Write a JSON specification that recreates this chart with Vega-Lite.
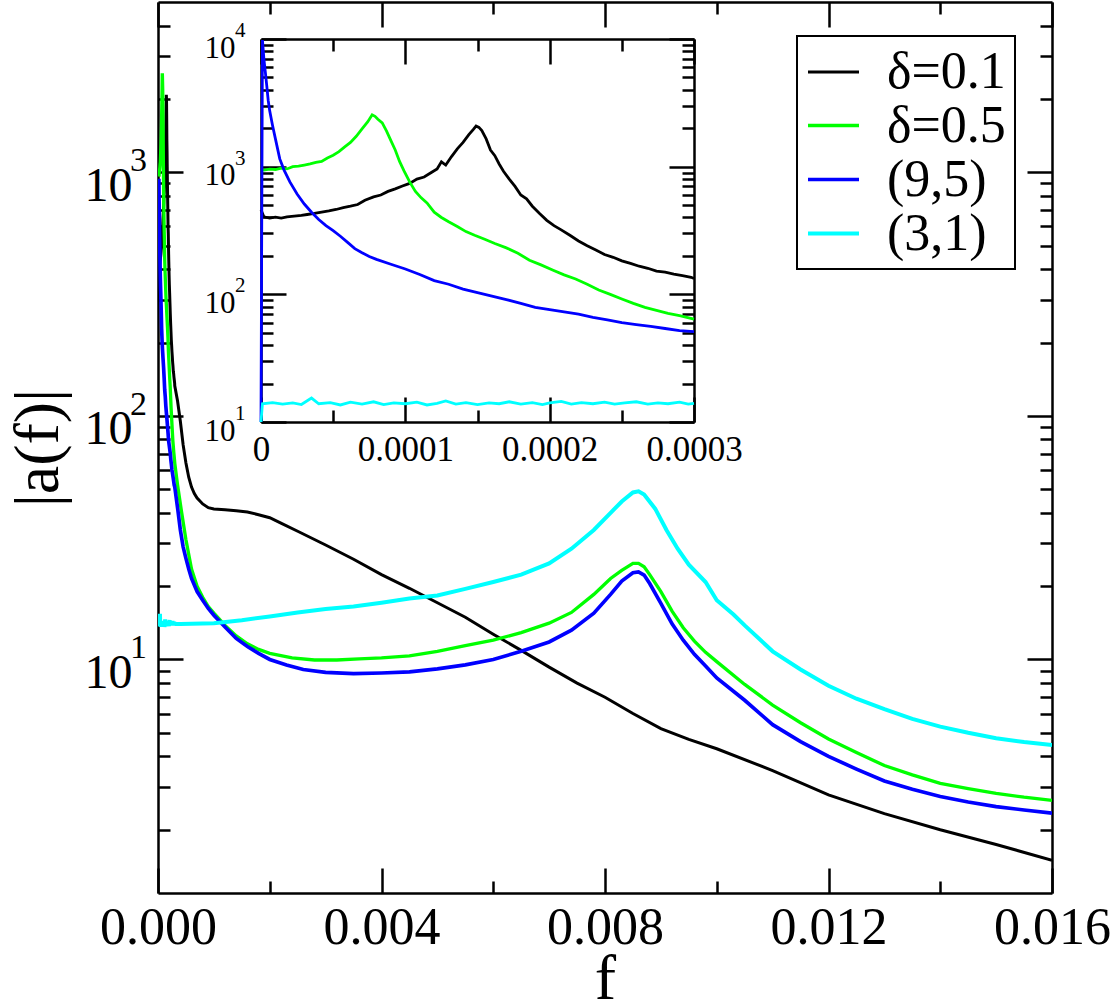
{
"$schema": "https://vega.github.io/schema/vega-lite/v6.json",
"width": 894, "height": 891,
"autosize": {"type": "none"},
"padding": {"left": 158, "top": 2, "right": 61, "bottom": 114},
"background": "white",
"config": {
 "view": {"stroke": null},
 "font": "Liberation Serif",
 "axis": {"grid": false, "labelFont": "Liberation Serif", "titleFont": "Liberation Serif", "labelColor": "black", "titleColor": "black", "tickColor": "black", "domainColor": "black", "tickWidth": 2.5, "domainWidth": 2.5, "titleFontWeight": "normal", "labelOverlap": false, "labelFlush": false, "labelBound": false, "zindex": 1},
 "legend": {"orient": "none", "legendX": 639, "legendY": 34, "strokeColor": "black", "strokeWidth": 2, "fillColor": "white", "padding": 9, "symbolType": "stroke", "symbolSize": 2601, "symbolStrokeWidth": 2, "labelFont": "Liberation Serif", "labelFontSize": 52, "labelColor": "black", "labelOffset": 26, "rowPadding": -2, "labelLimit": 400}
},
"datasets": {
 "mainExp": [{"f": 0, "v": 10, "e": "1"}, {"f": 0, "v": 100, "e": "2"}, {"f": 0, "v": 1000, "e": "3"}],
 "insetExp": [{"f": 0, "v": 10, "e": "1"}, {"f": 0, "v": 100, "e": "2"}, {"f": 0, "v": 1000, "e": "3"}, {"f": 0, "v": 10000, "e": "4"}],
 "curves": [
{"s":"δ=0.1","f":0,"v":460},{"s":"δ=0.1","f":0.000002,"v":405},{"s":"δ=0.1","f":0.000006,"v":395},{"s":"δ=0.1","f":0.00001,"v":402},{"s":"δ=0.1","f":0.000014,"v":396},{"s":"δ=0.1","f":0.000018,"v":405},{"s":"δ=0.1","f":0.000023,"v":410},{"s":"δ=0.1","f":0.000028,"v":415},{"s":"δ=0.1","f":0.000032,"v":422},{"s":"δ=0.1","f":0.000037,"v":430},{"s":"δ=0.1","f":0.000042,"v":440},{"s":"δ=0.1","f":0.000047,"v":450},{"s":"δ=0.1","f":0.000052,"v":462},{"s":"δ=0.1","f":0.000057,"v":478},{"s":"δ=0.1","f":0.000062,"v":490},{"s":"δ=0.1","f":0.000067,"v":505},{"s":"δ=0.1","f":0.000072,"v":545},{"s":"δ=0.1","f":0.000078,"v":580},{"s":"δ=0.1","f":0.000083,"v":600},{"s":"δ=0.1","f":0.000088,"v":640},{"s":"δ=0.1","f":0.000093,"v":670},{"s":"δ=0.1","f":0.000098,"v":705},{"s":"δ=0.1","f":0.000103,"v":740},{"s":"δ=0.1","f":0.000108,"v":800},{"s":"δ=0.1","f":0.000113,"v":830},{"s":"δ=0.1","f":0.000118,"v":900},{"s":"δ=0.1","f":0.000122,"v":960},{"s":"δ=0.1","f":0.000125,"v":1090},{"s":"δ=0.1","f":0.000128,"v":1030},{"s":"δ=0.1","f":0.000132,"v":1200},{"s":"δ=0.1","f":0.000136,"v":1380},{"s":"δ=0.1","f":0.00014,"v":1550},{"s":"δ=0.1","f":0.000144,"v":1780},{"s":"δ=0.1","f":0.000147,"v":1950},{"s":"δ=0.1","f":0.000149,"v":2080},{"s":"δ=0.1","f":0.000151,"v":2030},{"s":"δ=0.1","f":0.000153,"v":1920},{"s":"δ=0.1","f":0.000156,"v":1650},{"s":"δ=0.1","f":0.000159,"v":1350},{"s":"δ=0.1","f":0.000162,"v":1220},{"s":"δ=0.1","f":0.000165,"v":1050},{"s":"δ=0.1","f":0.000168,"v":920},{"s":"δ=0.1","f":0.000172,"v":800},{"s":"δ=0.1","f":0.000176,"v":700},{"s":"δ=0.1","f":0.00018,"v":600},{"s":"δ=0.1","f":0.000184,"v":560},{"s":"δ=0.1","f":0.000188,"v":490},{"s":"δ=0.1","f":0.000193,"v":430},{"s":"δ=0.1","f":0.000198,"v":380},{"s":"δ=0.1","f":0.000203,"v":345},{"s":"δ=0.1","f":0.000208,"v":320},{"s":"δ=0.1","f":0.000214,"v":290},{"s":"δ=0.1","f":0.00022,"v":262},{"s":"δ=0.1","f":0.000226,"v":240},{"s":"δ=0.1","f":0.000232,"v":222},{"s":"δ=0.1","f":0.000238,"v":205},{"s":"δ=0.1","f":0.000244,"v":195},{"s":"δ=0.1","f":0.00025,"v":183},{"s":"δ=0.1","f":0.000256,"v":175},{"s":"δ=0.1","f":0.000262,"v":166},{"s":"δ=0.1","f":0.000268,"v":160},{"s":"δ=0.1","f":0.000274,"v":152},{"s":"δ=0.1","f":0.00028,"v":149},{"s":"δ=0.1","f":0.000286,"v":144},{"s":"δ=0.1","f":0.000292,"v":140},{"s":"δ=0.1","f":0.000298,"v":136},{"s":"δ=0.1","f":0.0003,"v":133},
{"s":"δ=0.1","f":0.00035,"v":115},{"s":"δ=0.1","f":0.0004,"v":95},{"s":"δ=0.1","f":0.00045,"v":76},{"s":"δ=0.1","f":0.0005,"v":64},{"s":"δ=0.1","f":0.00055,"v":56},{"s":"δ=0.1","f":0.0006,"v":51},{"s":"δ=0.1","f":0.00065,"v":48},{"s":"δ=0.1","f":0.0007,"v":46},{"s":"δ=0.1","f":0.0008,"v":43.5},{"s":"δ=0.1","f":0.0009,"v":42},{"s":"δ=0.1","f":0.001,"v":41.5},{"s":"δ=0.1","f":0.0012,"v":41.2},{"s":"δ=0.1","f":0.0014,"v":40.8},{"s":"δ=0.1","f":0.0016,"v":40.3},{"s":"δ=0.1","f":0.0018,"v":39.3},{"s":"δ=0.1","f":0.002,"v":38.2},{"s":"δ=0.1","f":0.0022,"v":36.3},{"s":"δ=0.1","f":0.0025,"v":33.6},{"s":"δ=0.1","f":0.003,"v":29.5},{"s":"δ=0.1","f":0.0035,"v":25.8},{"s":"δ=0.1","f":0.004,"v":22.3},{"s":"δ=0.1","f":0.0045,"v":19.6},{"s":"δ=0.1","f":0.005,"v":17.1},{"s":"δ=0.1","f":0.0055,"v":14.9},{"s":"δ=0.1","f":0.006,"v":12.7},{"s":"δ=0.1","f":0.0065,"v":10.9},{"s":"δ=0.1","f":0.007,"v":9.3},{"s":"δ=0.1","f":0.0075,"v":8.0},{"s":"δ=0.1","f":0.008,"v":7.0},{"s":"δ=0.1","f":0.0085,"v":6.0},{"s":"δ=0.1","f":0.009,"v":5.2},{"s":"δ=0.1","f":0.0095,"v":4.7},{"s":"δ=0.1","f":0.01,"v":4.3},{"s":"δ=0.1","f":0.011,"v":3.5},{"s":"δ=0.1","f":0.012,"v":2.78},{"s":"δ=0.1","f":0.013,"v":2.33},{"s":"δ=0.1","f":0.014,"v":2.0},{"s":"δ=0.1","f":0.015,"v":1.74},{"s":"δ=0.1","f":0.016,"v":1.5},
{"s":"δ=0.5","f":0,"v":950},{"s":"δ=0.5","f":0.000002,"v":940},{"s":"δ=0.5","f":0.000006,"v":955},{"s":"δ=0.5","f":0.00001,"v":950},{"s":"δ=0.5","f":0.000014,"v":975},{"s":"δ=0.5","f":0.000018,"v":960},{"s":"δ=0.5","f":0.000022,"v":1000},{"s":"δ=0.5","f":0.000026,"v":1010},{"s":"δ=0.5","f":0.00003,"v":1030},{"s":"δ=0.5","f":0.000034,"v":1050},{"s":"δ=0.5","f":0.000038,"v":1080},{"s":"δ=0.5","f":0.000042,"v":1100},{"s":"δ=0.5","f":0.000046,"v":1170},{"s":"δ=0.5","f":0.00005,"v":1230},{"s":"δ=0.5","f":0.000054,"v":1310},{"s":"δ=0.5","f":0.000058,"v":1430},{"s":"δ=0.5","f":0.000062,"v":1550},{"s":"δ=0.5","f":0.000066,"v":1730},{"s":"δ=0.5","f":0.00007,"v":1980},{"s":"δ=0.5","f":0.000074,"v":2250},{"s":"δ=0.5","f":0.000077,"v":2550},{"s":"δ=0.5","f":0.000079,"v":2480},{"s":"δ=0.5","f":0.000081,"v":2350},{"s":"δ=0.5","f":0.000084,"v":2200},{"s":"δ=0.5","f":0.000087,"v":1900},{"s":"δ=0.5","f":0.00009,"v":1600},{"s":"δ=0.5","f":0.000093,"v":1350},{"s":"δ=0.5","f":0.000096,"v":1100},{"s":"δ=0.5","f":0.000099,"v":930},{"s":"δ=0.5","f":0.000103,"v":760},{"s":"δ=0.5","f":0.000107,"v":640},{"s":"δ=0.5","f":0.000111,"v":570},{"s":"δ=0.5","f":0.000115,"v":520},{"s":"δ=0.5","f":0.00012,"v":440},{"s":"δ=0.5","f":0.000125,"v":400},{"s":"δ=0.5","f":0.00013,"v":370},{"s":"δ=0.5","f":0.000136,"v":340},{"s":"δ=0.5","f":0.000142,"v":310},{"s":"δ=0.5","f":0.000148,"v":290},{"s":"δ=0.5","f":0.000155,"v":270},{"s":"δ=0.5","f":0.000162,"v":250},{"s":"δ=0.5","f":0.00017,"v":231},{"s":"δ=0.5","f":0.000178,"v":210},{"s":"δ=0.5","f":0.000186,"v":185},{"s":"δ=0.5","f":0.000194,"v":170},{"s":"δ=0.5","f":0.000202,"v":155},{"s":"δ=0.5","f":0.00021,"v":142},{"s":"δ=0.5","f":0.000218,"v":132},{"s":"δ=0.5","f":0.000226,"v":120},{"s":"δ=0.5","f":0.000234,"v":108},{"s":"δ=0.5","f":0.000242,"v":100},{"s":"δ=0.5","f":0.00025,"v":92},{"s":"δ=0.5","f":0.000258,"v":85},{"s":"δ=0.5","f":0.000266,"v":79},{"s":"δ=0.5","f":0.000274,"v":75},{"s":"δ=0.5","f":0.000282,"v":71},{"s":"δ=0.5","f":0.00029,"v":68},{"s":"δ=0.5","f":0.0003,"v":64},
{"s":"δ=0.5","f":0.00035,"v":52},{"s":"δ=0.5","f":0.000424,"v":40},{"s":"δ=0.5","f":0.0005,"v":31},{"s":"δ=0.5","f":0.0006,"v":23.5},{"s":"δ=0.5","f":0.0007,"v":20},{"s":"δ=0.5","f":0.0008,"v":18},{"s":"δ=0.5","f":0.0009,"v":16.5},{"s":"δ=0.5","f":0.001,"v":15.5},{"s":"δ=0.5","f":0.0012,"v":13.8},{"s":"δ=0.5","f":0.0014,"v":12.5},{"s":"δ=0.5","f":0.0016,"v":11.6},{"s":"δ=0.5","f":0.0018,"v":11.0},{"s":"δ=0.5","f":0.002,"v":10.6},{"s":"δ=0.5","f":0.0024,"v":10.15},{"s":"δ=0.5","f":0.0028,"v":9.95},{"s":"δ=0.5","f":0.0032,"v":9.95},{"s":"δ=0.5","f":0.0036,"v":10.05},{"s":"δ=0.5","f":0.004,"v":10.15},{"s":"δ=0.5","f":0.0045,"v":10.35},{"s":"δ=0.5","f":0.005,"v":10.8},{"s":"δ=0.5","f":0.0055,"v":11.4},{"s":"δ=0.5","f":0.006,"v":12.0},{"s":"δ=0.5","f":0.0065,"v":12.9},{"s":"δ=0.5","f":0.007,"v":14.1},{"s":"δ=0.5","f":0.0074,"v":15.6},{"s":"δ=0.5","f":0.0078,"v":18.5},{"s":"δ=0.5","f":0.0081,"v":21.5},{"s":"δ=0.5","f":0.0083,"v":23.2},{"s":"δ=0.5","f":0.0085,"v":24.8},{"s":"δ=0.5","f":0.0086,"v":24.8},{"s":"δ=0.5","f":0.0087,"v":24.0},{"s":"δ=0.5","f":0.0088,"v":22.3},{"s":"δ=0.5","f":0.009,"v":19.0},{"s":"δ=0.5","f":0.0092,"v":15.8},{"s":"δ=0.5","f":0.0094,"v":13.5},{"s":"δ=0.5","f":0.0096,"v":11.9},{"s":"δ=0.5","f":0.0098,"v":10.7},{"s":"δ=0.5","f":0.01,"v":9.8},{"s":"δ=0.5","f":0.0105,"v":7.9},{"s":"δ=0.5","f":0.011,"v":6.5},{"s":"δ=0.5","f":0.0115,"v":5.5},{"s":"δ=0.5","f":0.012,"v":4.72},{"s":"δ=0.5","f":0.0125,"v":4.15},{"s":"δ=0.5","f":0.013,"v":3.67},{"s":"δ=0.5","f":0.0135,"v":3.36},{"s":"δ=0.5","f":0.014,"v":3.1},{"s":"δ=0.5","f":0.0145,"v":2.95},{"s":"δ=0.5","f":0.015,"v":2.82},{"s":"δ=0.5","f":0.0155,"v":2.72},{"s":"δ=0.5","f":0.016,"v":2.64},
{"s":"(9,5)","f":0,"v":1},{"s":"(9,5)","f":0.000001,"v":9800},{"s":"(9,5)","f":0.000002,"v":7000},{"s":"(9,5)","f":0.000003,"v":5500},{"s":"(9,5)","f":0.000004,"v":4300},{"s":"(9,5)","f":0.000005,"v":3300},{"s":"(9,5)","f":0.000006,"v":2750},{"s":"(9,5)","f":0.000008,"v":2100},{"s":"(9,5)","f":0.00001,"v":1650},{"s":"(9,5)","f":0.000013,"v":1150},{"s":"(9,5)","f":0.000016,"v":940},{"s":"(9,5)","f":0.00002,"v":760},{"s":"(9,5)","f":0.000025,"v":610},{"s":"(9,5)","f":0.00003,"v":510},{"s":"(9,5)","f":0.000035,"v":440},{"s":"(9,5)","f":0.00004,"v":385},{"s":"(9,5)","f":0.000045,"v":345},{"s":"(9,5)","f":0.00005,"v":315},{"s":"(9,5)","f":0.000055,"v":285},{"s":"(9,5)","f":0.00006,"v":255},{"s":"(9,5)","f":0.000065,"v":228},{"s":"(9,5)","f":0.00007,"v":212},{"s":"(9,5)","f":0.000075,"v":198},{"s":"(9,5)","f":0.00008,"v":188},{"s":"(9,5)","f":0.00009,"v":172},{"s":"(9,5)","f":0.0001,"v":158},{"s":"(9,5)","f":0.00011,"v":143},{"s":"(9,5)","f":0.00012,"v":128},{"s":"(9,5)","f":0.00013,"v":120},{"s":"(9,5)","f":0.00014,"v":110},{"s":"(9,5)","f":0.00015,"v":103},{"s":"(9,5)","f":0.00016,"v":97},{"s":"(9,5)","f":0.00017,"v":91},{"s":"(9,5)","f":0.00018,"v":85},{"s":"(9,5)","f":0.00019,"v":79},{"s":"(9,5)","f":0.0002,"v":76},{"s":"(9,5)","f":0.00021,"v":73},{"s":"(9,5)","f":0.00022,"v":70},{"s":"(9,5)","f":0.00023,"v":66},{"s":"(9,5)","f":0.00024,"v":63},{"s":"(9,5)","f":0.00025,"v":60},{"s":"(9,5)","f":0.00026,"v":58},{"s":"(9,5)","f":0.00027,"v":56},{"s":"(9,5)","f":0.00028,"v":54},{"s":"(9,5)","f":0.00029,"v":52},{"s":"(9,5)","f":0.0003,"v":51},
{"s":"(9,5)","f":0.00035,"v":42},{"s":"(9,5)","f":0.0004,"v":34},{"s":"(9,5)","f":0.00045,"v":29},{"s":"(9,5)","f":0.0005,"v":26},{"s":"(9,5)","f":0.00055,"v":23.5},{"s":"(9,5)","f":0.0006,"v":21.5},{"s":"(9,5)","f":0.0007,"v":19},{"s":"(9,5)","f":0.0008,"v":17.5},{"s":"(9,5)","f":0.0009,"v":16.2},{"s":"(9,5)","f":0.001,"v":15.2},{"s":"(9,5)","f":0.0012,"v":13.6},{"s":"(9,5)","f":0.0014,"v":12.2},{"s":"(9,5)","f":0.0016,"v":11.3},{"s":"(9,5)","f":0.0018,"v":10.6},{"s":"(9,5)","f":0.002,"v":10.0},{"s":"(9,5)","f":0.0023,"v":9.5},{"s":"(9,5)","f":0.0026,"v":9.1},{"s":"(9,5)","f":0.003,"v":8.85},{"s":"(9,5)","f":0.0035,"v":8.75},{"s":"(9,5)","f":0.004,"v":8.8},{"s":"(9,5)","f":0.0045,"v":8.9},{"s":"(9,5)","f":0.005,"v":9.15},{"s":"(9,5)","f":0.0055,"v":9.5},{"s":"(9,5)","f":0.006,"v":10.0},{"s":"(9,5)","f":0.0065,"v":10.8},{"s":"(9,5)","f":0.007,"v":11.8},{"s":"(9,5)","f":0.0074,"v":13.2},{"s":"(9,5)","f":0.0078,"v":15.5},{"s":"(9,5)","f":0.0081,"v":18.5},{"s":"(9,5)","f":0.0083,"v":21.0},{"s":"(9,5)","f":0.0085,"v":22.7},{"s":"(9,5)","f":0.0086,"v":22.9},{"s":"(9,5)","f":0.0087,"v":22.2},{"s":"(9,5)","f":0.0088,"v":20.5},{"s":"(9,5)","f":0.009,"v":17.0},{"s":"(9,5)","f":0.0092,"v":14.0},{"s":"(9,5)","f":0.0094,"v":12.0},{"s":"(9,5)","f":0.0096,"v":10.5},{"s":"(9,5)","f":0.0098,"v":9.4},{"s":"(9,5)","f":0.01,"v":8.4},{"s":"(9,5)","f":0.0105,"v":6.8},{"s":"(9,5)","f":0.011,"v":5.4},{"s":"(9,5)","f":0.0115,"v":4.6},{"s":"(9,5)","f":0.012,"v":4.0},{"s":"(9,5)","f":0.0125,"v":3.55},{"s":"(9,5)","f":0.013,"v":3.17},{"s":"(9,5)","f":0.0135,"v":2.93},{"s":"(9,5)","f":0.014,"v":2.74},{"s":"(9,5)","f":0.0145,"v":2.6},{"s":"(9,5)","f":0.015,"v":2.49},{"s":"(9,5)","f":0.0155,"v":2.41},{"s":"(9,5)","f":0.016,"v":2.34},
{"s":"(3,1)","f":0,"v":1},{"s":"(3,1)","f":0.000001,"v":13.9},{"s":"(3,1)","f":0.000008,"v":14.2},{"s":"(3,1)","f":0.000015,"v":13.8},{"s":"(3,1)","f":0.000022,"v":14.1},{"s":"(3,1)","f":0.000028,"v":13.7},{"s":"(3,1)","f":0.000035,"v":15.4},{"s":"(3,1)","f":0.00004,"v":13.9},{"s":"(3,1)","f":0.000048,"v":14.2},{"s":"(3,1)","f":0.000055,"v":13.6},{"s":"(3,1)","f":0.000062,"v":14.3},{"s":"(3,1)","f":0.00007,"v":13.8},{"s":"(3,1)","f":0.000078,"v":14.4},{"s":"(3,1)","f":0.000085,"v":13.7},{"s":"(3,1)","f":0.000092,"v":14.1},{"s":"(3,1)","f":0.0001,"v":13.9},{"s":"(3,1)","f":0.000108,"v":14.3},{"s":"(3,1)","f":0.000115,"v":13.6},{"s":"(3,1)","f":0.000122,"v":14.0},{"s":"(3,1)","f":0.000128,"v":14.6},{"s":"(3,1)","f":0.000135,"v":13.8},{"s":"(3,1)","f":0.000142,"v":14.2},{"s":"(3,1)","f":0.00015,"v":13.7},{"s":"(3,1)","f":0.000158,"v":14.1},{"s":"(3,1)","f":0.000165,"v":13.9},{"s":"(3,1)","f":0.000172,"v":14.4},{"s":"(3,1)","f":0.00018,"v":13.8},{"s":"(3,1)","f":0.000188,"v":14.2},{"s":"(3,1)","f":0.000195,"v":13.7},{"s":"(3,1)","f":0.0002,"v":14.1},{"s":"(3,1)","f":0.000208,"v":14.5},{"s":"(3,1)","f":0.000215,"v":13.8},{"s":"(3,1)","f":0.000222,"v":14.2},{"s":"(3,1)","f":0.00023,"v":13.9},{"s":"(3,1)","f":0.000238,"v":14.3},{"s":"(3,1)","f":0.000245,"v":13.8},{"s":"(3,1)","f":0.000252,"v":14.1},{"s":"(3,1)","f":0.00026,"v":14.4},{"s":"(3,1)","f":0.000268,"v":13.8},{"s":"(3,1)","f":0.000275,"v":14.1},{"s":"(3,1)","f":0.000282,"v":13.9},{"s":"(3,1)","f":0.00029,"v":14.3},{"s":"(3,1)","f":0.000296,"v":13.8},{"s":"(3,1)","f":0.0003,"v":14.0},
{"s":"(3,1)","f":0.0004,"v":14.0},{"s":"(3,1)","f":0.001,"v":14.1},{"s":"(3,1)","f":0.0015,"v":14.5},{"s":"(3,1)","f":0.002,"v":15.0},{"s":"(3,1)","f":0.0025,"v":15.6},{"s":"(3,1)","f":0.003,"v":16.1},{"s":"(3,1)","f":0.0035,"v":16.5},{"s":"(3,1)","f":0.004,"v":17.1},{"s":"(3,1)","f":0.0045,"v":17.8},{"s":"(3,1)","f":0.005,"v":18.3},{"s":"(3,1)","f":0.0055,"v":19.5},{"s":"(3,1)","f":0.006,"v":20.8},{"s":"(3,1)","f":0.0065,"v":22.3},{"s":"(3,1)","f":0.007,"v":24.8},{"s":"(3,1)","f":0.0074,"v":28.5},{"s":"(3,1)","f":0.0078,"v":34.0},{"s":"(3,1)","f":0.0081,"v":40.0},{"s":"(3,1)","f":0.0083,"v":44.5},{"s":"(3,1)","f":0.0085,"v":48.5},{"s":"(3,1)","f":0.0086,"v":49.0},{"s":"(3,1)","f":0.0087,"v":47.5},{"s":"(3,1)","f":0.0089,"v":41.5},{"s":"(3,1)","f":0.0091,"v":34.0},{"s":"(3,1)","f":0.0093,"v":28.5},{"s":"(3,1)","f":0.0095,"v":24.5},{"s":"(3,1)","f":0.0098,"v":20.8},{"s":"(3,1)","f":0.01,"v":17.5},{"s":"(3,1)","f":0.0103,"v":15.3},{"s":"(3,1)","f":0.0105,"v":13.8},{"s":"(3,1)","f":0.011,"v":10.8},{"s":"(3,1)","f":0.0115,"v":9.1},{"s":"(3,1)","f":0.012,"v":7.8},{"s":"(3,1)","f":0.0125,"v":6.9},{"s":"(3,1)","f":0.013,"v":6.25},{"s":"(3,1)","f":0.0135,"v":5.7},{"s":"(3,1)","f":0.014,"v":5.3},{"s":"(3,1)","f":0.0145,"v":5.0},{"s":"(3,1)","f":0.015,"v":4.75},{"s":"(3,1)","f":0.0155,"v":4.58},{"s":"(3,1)","f":0.016,"v":4.46}
 ]
},
"layer": [
 {
  "layer": [
   {
    "data": {"name": "curves"},
    "transform": [{"filter": "datum.f >= 0.000015"}],
    "mark": {"type": "line", "clip": true},
    "encoding": {
     "x": {"field": "f", "type": "quantitative", "scale": {"domain": [0, 0.016], "nice": false, "zero": false},
      "axis": {"orient": "bottom", "values": [0, 0.004, 0.008, 0.012, 0.016], "format": ".3f", "tickSize": -25, "labelFontSize": 52, "labelBaseline": "top", "labelPadding": 34, "title": "f", "titleFontSize": 64, "titlePadding": -6, "domain": true}},
     "y": {"field": "v", "type": "quantitative", "scale": {"type": "log", "domain": [1.1, 5000], "nice": false},
      "axis": {"orient": "left", "values": [10, 100, 1000], "labelExpr": "'10'", "tickSize": -25, "labelFontSize": 48, "labelBaseline": "alphabetic", "labelAlign": "right", "labelOffset": 28, "labelPadding": 51, "title": "|a(f)|", "titleFontSize": 64, "titlePadding": 14, "domain": true}},
     "color": {"field": "s", "type": "nominal", "scale": {"domain": ["δ=0.1", "δ=0.5", "(9,5)", "(3,1)"], "range": ["#000000", "#00ff00", "#0000ff", "#00ffff"]}, "legend": {"title": null}},
     "strokeWidth": {"field": "s", "type": "ordinal", "scale": {"domain": ["δ=0.1", "δ=0.5", "(9,5)", "(3,1)"], "range": [3, 4, 4.5, 7.5]}, "legend": null}
    }
   },
   {
    "data": {"values": [{"f": 0, "v": 10}]},
    "mark": {"type": "point", "opacity": 0},
    "encoding": {
     "x": {"field": "f", "type": "quantitative", "scale": {"domain": [0, 0.016], "nice": false, "zero": false},
      "axis": {"orient": "bottom", "values": [0.002, 0.006, 0.01, 0.014], "tickSize": -12, "labels": false, "domain": false, "title": null}},
     "y": {"field": "v", "type": "quantitative", "scale": {"type": "log", "domain": [1.1, 5000], "nice": false},
      "axis": {"orient": "left", "values": [2, 3, 4, 5, 6, 7, 8, 9, 20, 30, 40, 50, 60, 70, 80, 90, 200, 300, 400, 500, 600, 700, 800, 900, 2000, 3000, 4000], "tickSize": -12, "labels": false, "domain": false, "title": null}}
    }
   },
   {
    "data": {"values": [{"f": 0, "v": 10}]},
    "mark": {"type": "point", "opacity": 0},
    "encoding": {
     "x": {"field": "f", "type": "quantitative", "scale": {"domain": [0, 0.016], "nice": false, "zero": false},
      "axis": {"orient": "top", "values": [0, 0.004, 0.008, 0.012, 0.016], "tickSize": -25, "labels": false, "domain": true, "title": null}},
     "y": {"field": "v", "type": "quantitative", "scale": {"type": "log", "domain": [1.1, 5000], "nice": false},
      "axis": {"orient": "right", "values": [10, 100, 1000], "tickSize": -25, "labels": false, "domain": true, "title": null}}
    }
   },
   {
    "data": {"values": [{"f": 0, "v": 10}]},
    "mark": {"type": "point", "opacity": 0},
    "encoding": {
     "x": {"field": "f", "type": "quantitative", "scale": {"domain": [0, 0.016], "nice": false, "zero": false},
      "axis": {"orient": "top", "values": [0.002, 0.006, 0.01, 0.014], "tickSize": -12, "labels": false, "domain": false, "title": null}},
     "y": {"field": "v", "type": "quantitative", "scale": {"type": "log", "domain": [1.1, 5000], "nice": false},
      "axis": {"orient": "right", "values": [2, 3, 4, 5, 6, 7, 8, 9, 20, 30, 40, 50, 60, 70, 80, 90, 200, 300, 400, 500, 600, 700, 800, 900, 2000, 3000, 4000], "tickSize": -12, "labels": false, "domain": false, "title": null}}
    }
   },
   {
    "data": {"name": "mainExp"},
    "mark": {"type": "text", "align": "left", "baseline": "alphabetic", "dx": -28, "dy": -1, "fontSize": 34, "font": "Liberation Serif", "fill": "black"},
    "encoding": {
     "x": {"field": "f", "type": "quantitative", "scale": {"domain": [0, 0.016], "nice": false, "zero": false}, "axis": null},
     "y": {"field": "v", "type": "quantitative", "scale": {"type": "log", "domain": [1.1, 5000], "nice": false}, "axis": null},
     "text": {"field": "e"}
    }
   }
  ],
  "resolve": {"axis": {"x": "independent", "y": "independent"}}
 },
 {
  "layer": [
   {
    "data": {"name": "curves"},
    "transform": [{"filter": "datum.f <= 0.0003"}],
    "mark": {"type": "line", "strokeWidth": 2.8},
    "encoding": {
     "x": {"field": "f", "type": "quantitative", "scale": {"domain": [0, 0.0003], "nice": false, "zero": false, "range": [103, 536]},
      "axis": {"orient": "bottom", "offset": -471, "values": [0, 0.0001, 0.0002, 0.0003], "labelExpr": "datum.value == 0 ? '0' : format(datum.value, '.4f')", "tickSize": -25, "labelFontSize": 35, "labelBaseline": "top", "labelPadding": 35, "title": null, "domain": true}},
     "y": {"field": "v", "type": "quantitative", "scale": {"type": "log", "domain": [10, 10000], "nice": false, "range": [420, 37], "clamp": true},
      "axis": {"orient": "left", "offset": -103, "values": [10, 100, 1000, 10000], "labelExpr": "'10'", "tickSize": -25, "labelFontSize": 31, "labelBaseline": "alphabetic", "labelAlign": "right", "labelOffset": 18, "labelPadding": 51, "title": null, "domain": true}},
     "color": {"field": "s", "type": "nominal", "scale": {"domain": ["δ=0.1", "δ=0.5", "(9,5)", "(3,1)"], "range": ["#000000", "#00ff00", "#0000ff", "#00ffff"]}, "legend": null}
    }
   },
   {
    "data": {"values": [{"f": 0, "v": 10}]},
    "mark": {"type": "point", "opacity": 0},
    "encoding": {
     "x": {"field": "f", "type": "quantitative", "scale": {"domain": [0, 0.0003], "nice": false, "zero": false, "range": [103, 536]},
      "axis": {"orient": "bottom", "offset": -471, "values": [0.00005, 0.00015, 0.00025], "tickSize": -12, "labels": false, "domain": false, "title": null}},
     "y": {"field": "v", "type": "quantitative", "scale": {"type": "log", "domain": [10, 10000], "nice": false, "range": [420, 37], "clamp": true},
      "axis": {"orient": "left", "offset": -103, "values": [20, 30, 40, 50, 60, 70, 80, 90, 200, 300, 400, 500, 600, 700, 800, 900, 2000, 3000, 4000, 5000, 6000, 7000, 8000, 9000], "tickSize": -12, "labels": false, "domain": false, "title": null}}
    }
   },
   {
    "data": {"values": [{"f": 0, "v": 10}]},
    "mark": {"type": "point", "opacity": 0},
    "encoding": {
     "x": {"field": "f", "type": "quantitative", "scale": {"domain": [0, 0.0003], "nice": false, "zero": false, "range": [103, 536]},
      "axis": {"orient": "top", "offset": -37, "values": [0, 0.0001, 0.0002, 0.0003], "tickSize": -25, "labels": false, "domain": true, "title": null}},
     "y": {"field": "v", "type": "quantitative", "scale": {"type": "log", "domain": [10, 10000], "nice": false, "range": [420, 37], "clamp": true},
      "axis": {"orient": "right", "offset": -358, "values": [10, 100, 1000, 10000], "tickSize": -25, "labels": false, "domain": true, "title": null}}
    }
   },
   {
    "data": {"values": [{"f": 0, "v": 10}]},
    "mark": {"type": "point", "opacity": 0},
    "encoding": {
     "x": {"field": "f", "type": "quantitative", "scale": {"domain": [0, 0.0003], "nice": false, "zero": false, "range": [103, 536]},
      "axis": {"orient": "top", "offset": -37, "values": [0.00005, 0.00015, 0.00025], "tickSize": -12, "labels": false, "domain": false, "title": null}},
     "y": {"field": "v", "type": "quantitative", "scale": {"type": "log", "domain": [10, 10000], "nice": false, "range": [420, 37], "clamp": true},
      "axis": {"orient": "right", "offset": -358, "values": [20, 30, 40, 50, 60, 70, 80, 90, 200, 300, 400, 500, 600, 700, 800, 900, 2000, 3000, 4000, 5000, 6000, 7000, 8000, 9000], "tickSize": -12, "labels": false, "domain": false, "title": null}}
    }
   },
   {
    "data": {"name": "insetExp"},
    "mark": {"type": "text", "align": "left", "baseline": "alphabetic", "dx": -26, "dy": -2, "fontSize": 21, "font": "Liberation Serif", "fill": "black"},
    "encoding": {
     "x": {"field": "f", "type": "quantitative", "scale": {"domain": [0, 0.0003], "nice": false, "zero": false, "range": [103, 536]}, "axis": null},
     "y": {"field": "v", "type": "quantitative", "scale": {"type": "log", "domain": [10, 10000], "nice": false, "range": [420, 37], "clamp": true}, "axis": null},
     "text": {"field": "e"}
    }
   }
  ],
  "resolve": {"axis": {"x": "independent", "y": "independent"}}
 }
],
"resolve": {"scale": {"x": "independent", "y": "independent"}, "axis": {"x": "independent", "y": "independent"}}
}
